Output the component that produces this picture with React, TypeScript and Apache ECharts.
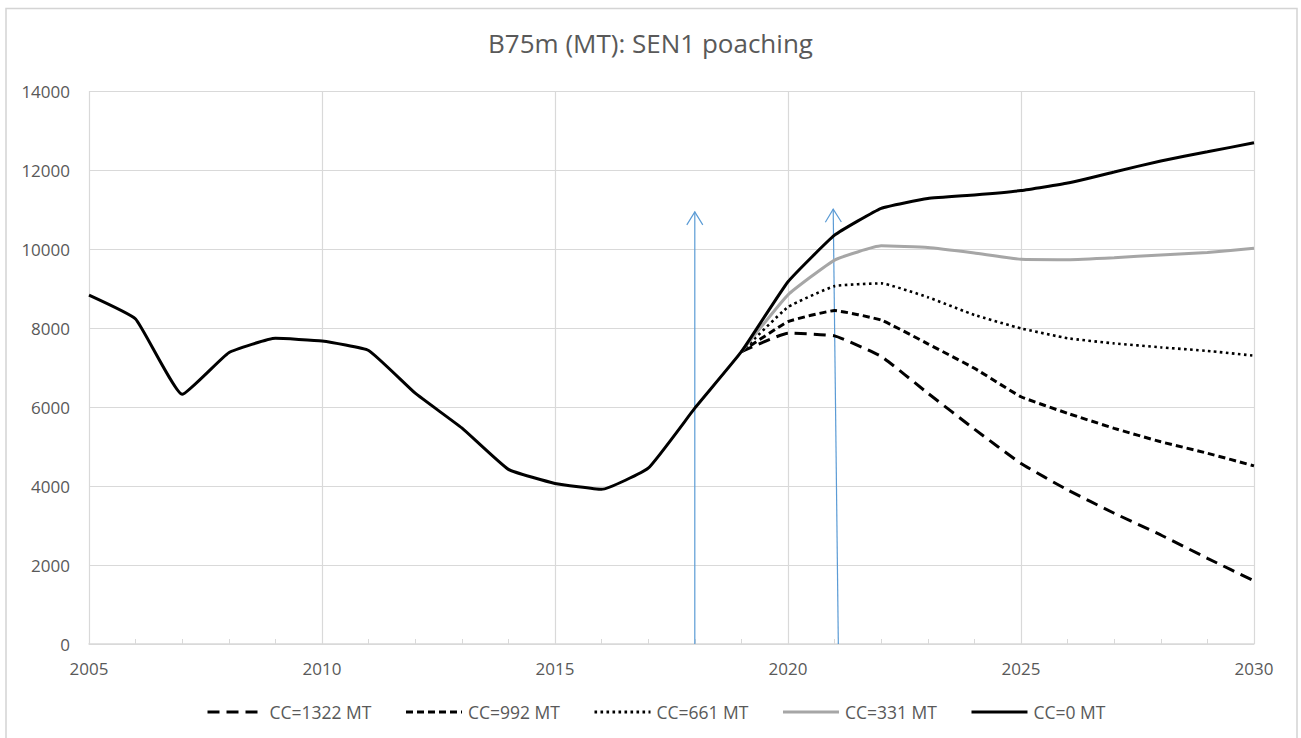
import React, { useEffect, useRef } from "react";
import * as echarts from "echarts";

const titleText = "B75m (MT): SEN1 poaching";
const historyYears = [2005, 2006, 2007, 2008, 2009, 2010, 2011, 2012, 2013, 2014, 2015, 2016, 2017, 2018, 2019];
const historyValues = [8835, 8230, 6320, 7375, 7740, 7670, 7430, 6350, 5470, 4420, 4065, 3915, 4450, 5970, 7400];
const scenarioYears = [2019, 2020, 2021, 2022, 2023, 2024, 2025, 2026, 2027, 2028, 2029, 2030];
const cc1322 = [7400, 7870, 7800, 7280, 6350, 5440, 4570, 3900, 3310, 2760, 2170, 1600];
const cc992 = [7400, 8160, 8440, 8200, 7600, 6980, 6260, 5840, 5460, 5120, 4830, 4510];
const cc661 = [7400, 8530, 9060, 9130, 8780, 8330, 7990, 7740, 7610, 7510, 7420, 7300];
const cc331 = [7400, 8840, 9720, 10080, 10040, 9900, 9740, 9730, 9780, 9850, 9910, 10020];
const cc0 = [7400, 9170, 10350, 11030, 11280, 11370, 11480, 11670, 11950, 12230, 12460, 12690];
const seriesNames = ["CC=1322 MT", "CC=992 MT", "CC=661 MT", "CC=331 MT", "CC=0 MT"];
// arrows: [x start, y start, x end, y end]
const arrows = [
  [2018.0, 0, 2018.0, 10940],
  [2021.08, 0, 2020.97, 11010],
];
const xMin = 2005, xMax = 2030, xStep = 5;
const yMin = 0, yMax = 14000, yStep = 2000;

const FONT = '"Open Sans", "Liberation Sans", sans-serif';
const TXT = "#595959";
const GRID = "#D9D9D9";

export default function App() {
  const ref = useRef<HTMLDivElement>(null);
  useEffect(() => {
    if (!ref.current) return;
    const chart = echarts.init(ref.current, null, { renderer: "svg" });
    const pairs = (xs: number[], ys: number[]) => xs.map((x, i) => [x, ys[i]]);
    const futureSeries = [cc1322, cc992, cc661, cc331];
    const styles = [
      { color: "#000000", width: 3, type: [12, 7] },
      { color: "#000000", width: 3, type: [7, 4] },
      { color: "#000000", width: 2.6, type: [2.6, 3.4] },
      { color: "#A6A6A6", width: 3, type: "solid" },
      { color: "#000000", width: 3, type: "solid" },
    ];
    const lineSeries: any[] = seriesNames.map((name, i) => {
      const data =
        i < 4
          ? pairs(scenarioYears, futureSeries[i])
          : pairs(historyYears.concat(scenarioYears.slice(1)), historyValues.concat(cc0.slice(1)));
      return {
        type: "line",
        name,
        data,
        symbol: "none",
        showSymbol: false,
        smooth: 0.12,
        z: 3 + i,
        color: styles[i].color,
        lineStyle: { color: styles[i].color, width: styles[i].width, type: styles[i].type as any, cap: "butt" },
      };
    });
    const arrowSeries = {
      type: "custom",
      name: "arrows",
      z: 2,
      silent: true,
      encode: { x: [0, 2], y: [1, 3] },
      data: arrows,
      renderItem: (_params: any, api: any) => {
        const p0 = api.coord([api.value(0), api.value(1)]);
        const p1 = api.coord([api.value(2), api.value(3)]);
        const dx = p1[0] - p0[0];
        const dy = p1[1] - p0[1];
        const len = Math.hypot(dx, dy);
        const ux = dx / len, uy = dy / len;
        const hl = 13, hw = 8;
        const bx = p1[0] - ux * hl, by = p1[1] - uy * hl;
        const l = [bx - uy * hw, by + ux * hw];
        const r = [bx + uy * hw, by - ux * hw];
        return {
          type: "group",
          children: [
            { type: "line", shape: { x1: p0[0], y1: p0[1], x2: p1[0], y2: p1[1] }, style: { stroke: "#5B9BD5", lineWidth: 1.2 } },
            { type: "polyline", shape: { points: [l, p1, r] }, style: { stroke: "#5B9BD5", fill: "none", lineWidth: 1.2 } },
          ],
        };
      },
    };
    chart.setOption({
      animation: false,
      backgroundColor: "#ffffff",
      textStyle: { fontFamily: FONT },
      title: {
        text: titleText,
        left: "center",
        top: 25,
        textStyle: { fontFamily: FONT, fontSize: 26, fontWeight: "normal", color: TXT },
      },
      graphic: [
        {
          type: "rect",
          shape: { x: 6, y: 8.5, width: 1291, height: 760 },
          style: { fill: "none", stroke: "#D4D4D4", lineWidth: 1.5 },
          silent: true,
        },
      ],
      legend: {
        data: seriesNames,
        bottom: 12,
        left: 201,
        itemWidth: 56,
        itemHeight: 12,
        itemGap: 33,
        itemStyle: { opacity: 0 },
        lineStyle: { width: 3 },
        textStyle: { fontFamily: FONT, fontSize: 17.5, color: TXT, padding: [0, 0, 0, 1] },
      },
      grid: { left: 89, right: 47, top: 91, bottom: 94, containLabel: false },
      xAxis: {
        type: "value",
        min: xMin,
        max: xMax,
        interval: xStep,
        axisLine: { show: true, lineStyle: { color: GRID, width: 1.5 } },
        axisTick: { show: true, inside: true, length: 5, lineStyle: { color: GRID } },
        minorTick: { show: true, splitNumber: 5, length: 5, lineStyle: { color: GRID } },
        splitLine: { show: true, lineStyle: { color: GRID, width: 1.2 } },
        axisLabel: { color: TXT, fontSize: 17, fontFamily: FONT, margin: 16, formatter: (v: number) => String(v) },
      },
      yAxis: {
        type: "value",
        min: yMin,
        max: yMax,
        interval: yStep,
        axisLine: { show: false },
        axisTick: { show: false },
        splitLine: { show: true, lineStyle: { color: GRID, width: 1.2 } },
        axisLabel: { color: TXT, fontSize: 17, fontFamily: FONT, margin: 19, formatter: (v: number) => String(v) },
      },
      series: [arrowSeries, ...lineSeries],
    });
    return () => chart.dispose();
  }, []);
  return <div ref={ref} style={{ position: "absolute", left: 0, top: 0, width: 1301, height: 738 }} />;
}
